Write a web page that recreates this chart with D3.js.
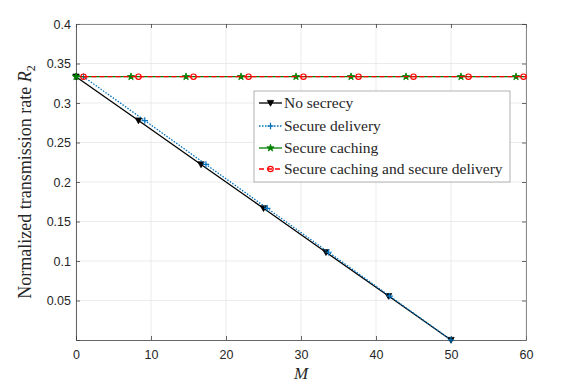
<!DOCTYPE html>
<html>
<head>
<meta charset="utf-8">
<script src="https://cdn.jsdelivr.net/npm/d3@7"></script>
<style>
  body { margin: 0; background: #fff; }
  .tick text { font-family: "Liberation Sans", Arial, sans-serif; font-size: 12.5px; fill: #262626; }
  .lbl { font-family: "Liberation Serif", "Times New Roman", serif; fill: #262626; }
</style>
</head>
<body>
<svg id="chart" width="581" height="388"></svg>
<script>
"use strict";

// x ticks / y ticks
var xTicks = [0, 10, 20, 30, 40, 50, 60];
var yTicks = [0.05, 0.1, 0.15, 0.2, 0.25, 0.3, 0.35, 0.4];

// No secrecy
var nsM = [0, 8.33, 16.67, 25, 33.33, 41.67, 50];
var nsR = [0.3333, 0.2778, 0.2222, 0.1667, 0.1111, 0.0556, 0];
// Secure delivery
var sdM = [1, 9.17, 17.33, 25.5, 33.67, 41.83, 50];
var sdR = [0.3333, 0.2778, 0.2222, 0.1667, 0.1111, 0.0556, 0];
// Secure caching (last point only ends the line)
var scM = [0, 7.33, 14.67, 22, 29.33, 36.67, 44, 51.33, 58.67, 60];
var scR = [0.3333, 0.3333, 0.3333, 0.3333, 0.3333, 0.3333, 0.3333, 0.3333, 0.3333, 0.3333];
// Secure caching and secure delivery
var sscdM = [1, 8.33, 15.67, 23, 30.33, 37.67, 45, 52.33, 59.67, 60];
var sscdR = [0.3333, 0.3333, 0.3333, 0.3333, 0.3333, 0.3333, 0.3333, 0.3333, 0.3333, 0.3333];

var legendNames = ["No secrecy", "Secure delivery", "Secure caching", "Secure caching and secure delivery"];

var svg = d3.select("#chart");
var pLeft = 76, pRight = 526, pTop = 24, pBottom = 340;

var x = d3.scaleLinear().domain([0, 60]).range([pLeft, pRight]);
var y = d3.scaleLinear().domain([0, 0.4]).range([pBottom, pTop]);

// grid
var grid = svg.append("g");
grid.selectAll("line.gx").data(xTicks).enter().append("line")
    .attr("x1", function (d) { return x(d); }).attr("x2", function (d) { return x(d); })
    .attr("y1", pTop).attr("y2", pBottom)
    .attr("stroke", "#e6e6e6").attr("stroke-width", 0.8);
grid.selectAll("line.gy").data(yTicks).enter().append("line")
    .attr("x1", pLeft).attr("x2", pRight)
    .attr("y1", function (d) { return y(d); }).attr("y2", function (d) { return y(d); })
    .attr("stroke", "#e6e6e6").attr("stroke-width", 0.8);

// axes (MATLAB box style, inward ticks)
var axColor = "#404040";
var xAxis = d3.axisBottom(x).tickValues(xTicks).tickSize(-4).tickPadding(10).tickFormat(d3.format("d"));
var yAxis = d3.axisLeft(y).tickValues(yTicks).tickSize(-4).tickPadding(5).tickFormat(function (d) { return String(+d.toFixed(2)); });
var gX = svg.append("g").attr("transform", "translate(0," + pBottom + ")").call(xAxis);
var gY = svg.append("g").attr("transform", "translate(" + pLeft + ",0)").call(yAxis);
var gXt = svg.append("g").attr("transform", "translate(0," + pTop + ")")
    .call(d3.axisTop(x).tickValues(xTicks).tickSize(-4).tickFormat(""));
var gYr = svg.append("g").attr("transform", "translate(" + pRight + ",0)")
    .call(d3.axisRight(y).tickValues(yTicks).tickSize(-4).tickFormat(""));
[gX, gY, gXt, gYr].forEach(function (g) {
    g.selectAll(".domain").attr("stroke", axColor).attr("stroke-width", 0.8);
    g.selectAll(".tick line").attr("stroke", axColor).attr("stroke-width", 0.8);
});
gXt.selectAll(".domain").attr("stroke", "#707070");
gYr.selectAll(".domain").attr("stroke", "#707070");

// axis labels
svg.append("text").attr("class", "lbl")
    .attr("x", 301).attr("y", 379)
    .attr("text-anchor", "middle").attr("font-size", 17).attr("font-style", "italic")
    .text("M");
var yl = svg.append("text").attr("class", "lbl")
    .attr("transform", "translate(31," + ((pTop + pBottom) / 2) + ") rotate(-90)")
    .attr("text-anchor", "middle").attr("font-size", 18);
yl.append("tspan").text("Normalized transmission rate ");
yl.append("tspan").attr("font-style", "italic").text("R");
yl.append("tspan").attr("font-size", 12).attr("dy", 4).text("2");

// series
var series = [
    { m: nsM, r: nsR, color: "#000000", dash: null, marker: "tri", n: nsM.length },
    { m: sdM, r: sdR, color: "#0072BD", dash: "1.5,1.5", marker: "plus", n: sdM.length },
    { m: scM, r: scR, color: "#008000", dash: null, marker: "star", n: 9 },
    { m: sscdM, r: sscdR, color: "#ff0000", dash: "5,3", marker: "circle", n: 9 }
];

var line = d3.line()
    .x(function (d) { return x(d[0]); })
    .y(function (d) { return y(d[1]); });

var triPath = "M-3.2,-2.6L3.2,-2.6L0,3.2Z";
var starPath = d3.symbol().type(d3.symbolStar).size(16)();

function drawMarker(g, s, px, py) {
    if (s.marker === "tri") {
        g.append("path").attr("d", triPath).attr("transform", "translate(" + px + "," + py + ")")
            .attr("fill", s.color).attr("stroke", s.color).attr("stroke-width", 0.8);
    } else if (s.marker === "plus") {
        g.append("path").attr("d", "M-3.2,0H3.2M0,-3.2V3.2").attr("transform", "translate(" + px + "," + py + ")")
            .attr("stroke", s.color).attr("stroke-width", 1.2).attr("fill", "none");
    } else if (s.marker === "star") {
        g.append("path").attr("d", starPath).attr("transform", "translate(" + px + "," + py + ")")
            .attr("fill", s.color).attr("stroke", s.color).attr("stroke-width", 0.8);
    } else {
        g.append("circle").attr("cx", px).attr("cy", py).attr("r", 2.7)
            .attr("fill", "none").attr("stroke", s.color).attr("stroke-width", 1.2);
    }
}

var plotG = svg.append("g");
series.forEach(function (s) {
    var pts = s.m.map(function (m, i) { return [m, s.r[i]]; });
    plotG.append("path").datum(pts).attr("d", line)
        .attr("fill", "none").attr("stroke", s.color).attr("stroke-width", 1.3)
        .attr("stroke-dasharray", s.dash);
    pts.slice(0, s.n).forEach(function (p) { drawMarker(plotG, s, x(p[0]), y(p[1])); });
});

// legend
var lg = svg.append("g").attr("transform", "translate(254,91)");
lg.append("rect").attr("width", 256).attr("height", 91)
    .attr("fill", "#fff").attr("stroke", "#a0a0a0").attr("stroke-width", 0.8);
var rowY = [12, 35, 57, 78];
series.forEach(function (s, i) {
    var row = lg.append("g");
    row.append("line").attr("x1", 5).attr("x2", 28).attr("y1", rowY[i]).attr("y2", rowY[i])
        .attr("stroke", s.color).attr("stroke-width", 1.3).attr("stroke-dasharray", s.dash);
    drawMarker(row, s, 16.5, rowY[i]);
    row.append("text").attr("class", "lbl").attr("x", 30).attr("y", rowY[i] + 5)
        .attr("font-size", 15.5).text(legendNames[i]);
});
</script>
</body>
</html>
